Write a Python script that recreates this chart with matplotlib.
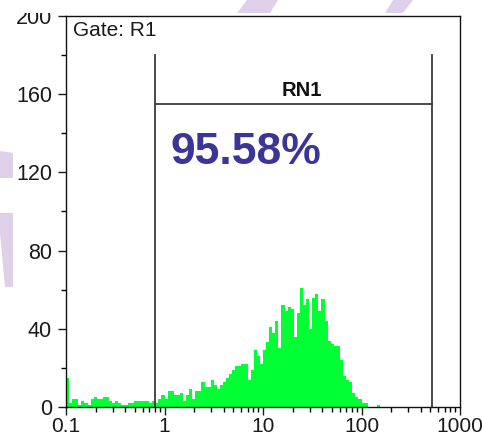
import numpy as np
import matplotlib
matplotlib.use('Agg')
import matplotlib.pyplot as plt
from matplotlib.patches import Polygon, Rectangle

plt.rcParams['font.family'] = ['Liberation Sans', 'DejaVu Sans']

# histogram counts, 32 log bins per decade starting at 0.1
counts = [15, 2, 4, 4, 1, 3, 2, 1, 4, 5,
          4, 4, 5, 5, 3, 2, 3, 2, 1, 1,
          2, 2, 3, 3, 3, 3, 3, 2, 3, 2,
          4, 6, 4, 8, 8, 6, 6, 7, 3, 6,
          9, 4, 8, 8, 13, 10, 10, 14, 11, 9,
          11, 13, 15, 17, 19, 21, 21, 22, 22, 14,
          19, 29, 26, 22, 29, 33, 41, 38, 44, 30,
          52, 49, 51, 50, 36, 48, 61, 52, 55, 40,
          56, 58, 49, 55, 44, 34, 32, 31, 31, 24,
          16, 14, 13, 7, 5, 4, 2, 2, 0, 0,
          0, 1]
bins_per_decade = 32
x_start = 0.1

gate_lo, gate_hi = 0.8, 520
gate_level = 155
gate_top = 180
gate_name = 'RN1'
gate_pct = '95.58%'

xticks = [0.1, 1, 10, 100, 1000]
xticklabels = ['0.1', '1', '10', '100', '1000']
yticks = [0, 40, 80, 120, 160, 200]
yticklabels = ['0', '40', '80', '120', '160', '200']

edges = x_start * 10 ** (np.arange(len(counts) + 1) / bins_per_decade)

W, H = 482, 440
fig = plt.figure(figsize=(W / 100, H / 100), dpi=100)
ax = fig.add_axes([66 / W, 1 - 407 / H, 394 / W, 391 / H])

ax.stairs(counts, edges, fill=True, color='#00ff33', linewidth=0, zorder=2)

ax.set_xscale('log')
ax.set_xlim(0.1, 1000)
ax.set_ylim(0, 200)
ax.set_xticks(xticks)
ax.set_xticklabels(xticklabels)
ax.set_yticks(yticks)
ax.set_yticklabels(yticklabels)
ax.set_yticks(np.arange(20, 200, 40), minor=True)

ax.tick_params(which='major', direction='out', length=6, width=1.0, labelsize=15.5,
               colors='#1a1a1a', pad=4)
ax.tick_params(axis='x', which='major', labelsize=15, pad=1.5)
ax.tick_params(which='minor', direction='out', length=3.5, width=1.0)
for s in ax.spines.values():
    s.set_linewidth(1.0)
    s.set_color('#111111')

# gate marker
gc = '#3a3a3a'
ax.plot([gate_lo, gate_lo], [0, gate_top], color=gc, lw=1.3, zorder=3)
ax.plot([gate_hi, gate_hi], [0, gate_top], color=gc, lw=1.3, zorder=3)
ax.plot([gate_lo, gate_hi], [gate_level, gate_level], color=gc, lw=1.3, zorder=3)
ax.text(25, gate_level + 2, gate_name, ha='center', va='bottom', fontsize=14.5,
        fontweight='bold', color='#111111')
ax.text(0.457, 0.652, gate_pct, transform=ax.transAxes, ha='center', va='center',
        fontsize=32, fontweight='bold', color='#3b3598')
ax.text(0.018, 0.988, 'Gate: R1', transform=ax.transAxes, ha='left', va='top',
        fontsize=15, color='#1a1a1a')

# cropped top band + faint watermark streaks
def px(pts):
    return [(x / W, 1 - y / H) for x, y in pts]

fig.patches.append(Rectangle((0, 1 - 13 / H), 1, 13 / H, transform=fig.transFigure,
                             facecolor='white', edgecolor='none', zorder=10))
wm = '#ddd0e8'
for pts in [[(247, 0), (278, 0), (270, 13), (237, 13)],
            [(393, 0), (413, 0), (403, 13), (385, 13)],
            [(0, 151), (13, 153), (13, 178), (0, 178)],
            [(0, 213), (13, 213), (13, 287), (5, 287), (0, 233)]]:
    fig.patches.append(Polygon(px(pts), closed=True, transform=fig.transFigure,
                               facecolor=wm, edgecolor='none', zorder=11))

fig.savefig('out.png', dpi=100, facecolor='white')
